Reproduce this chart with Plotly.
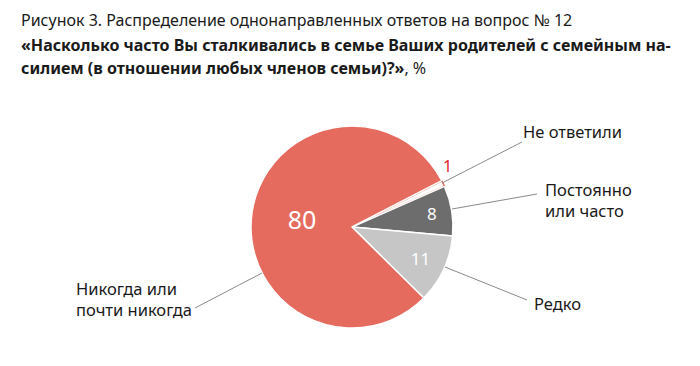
import plotly.graph_objects as go

W, H = 700, 366
OFF = 8  # page body margin of the browser

categories = ["Не ответили", "Постоянно<br>или часто", "Редко", "Никогда или<br>почти никогда"]
values = [1, 8, 11, 80]
colors = ["#FFFFFF", "#6D6D6D", "#C6C6C6", "#E56B5E"]
line_colors = ["#E56B5E", "#FFFFFF", "#FFFFFF", "#FFFFFF"]
inside_text = ["", "8", "11", "80"]

title_line1 = "Рисунок 3. Распределение однонаправленных ответов на вопрос № 12"
title_line2 = "«Насколько часто Вы сталкивались в семье Ваших родителей с семейным на-"
title_line3 = "силием (в отношении любых членов семьи)?»"
title_suffix = ", %"

FONT = "Noto Sans"

def px(x):
    return (x - OFF) / W

def py(y):
    return 1 - (y - OFF) / H

cx, cy, r = 352, 227, 101

fig = go.Figure()
fig.add_trace(go.Pie(
    labels=categories,
    values=values,
    sort=False,
    direction="clockwise",
    rotation=62.7,
    marker=dict(colors=colors, line=dict(color=line_colors, width=[1.6, 1.5, 1.5, 1.5])),
    text=inside_text,
    textinfo="text",
    textposition="inside",
    insidetextorientation="horizontal",
    textfont=dict(family=FONT, color="white", size=[16, 17, 17, 25]),
    domain=dict(x=[px(cx - r), px(cx + r)], y=[py(cy + r), py(cy - r)]),
    showlegend=False,
    hoverinfo="label+value",
))

ann = []
def t(x, y, text, size=16.5, color="#1a1a1a", xanchor="left", align="left"):
    ann.append(dict(x=px(x), y=py(y), xref="paper", yref="paper", text=text, showarrow=False,
                    xanchor=xanchor, yanchor="middle", align=align,
                    font=dict(family=FONT, size=size, color=color)))

t(19, 20, title_line1, size=16)
t(19, 45, "<b>" + title_line2 + "</b>", size=16)
t(19, 68, "<b>" + title_line3 + "</b>" + title_suffix, size=16)

t(447, 166, str(values[0]), size=16, color="#E2232F", xanchor="center")
t(521, 132, categories[0])
t(543, 200, categories[1])
t(532, 303, categories[2])
t(74, 299, categories[3])

shapes = []
def ln(x0, y0, x1, y1):
    shapes.append(dict(type="line", xref="paper", yref="paper", x0=px(x0), y0=py(y0), x1=px(x1), y1=py(y1),
                       line=dict(color="#8a8a8a", width=1)))

ln(442, 183, 522, 142)
ln(452, 209, 537, 194)
ln(445, 267, 527, 300)
ln(262, 273, 195, 308)

fig.update_layout(
    width=W, height=H,
    margin=dict(l=0, r=0, t=0, b=0),
    paper_bgcolor="white", plot_bgcolor="white",
    annotations=ann, shapes=shapes,
    font=dict(family=FONT),
)

fig.write_html("out.html")
